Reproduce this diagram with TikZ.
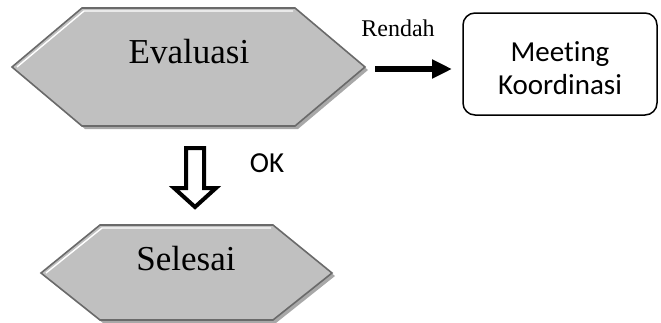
\documentclass[tikz,border=0pt]{standalone}
\usepackage{fontspec}
\setmainfont{Liberation Serif}
\newfontfamily\calfont[Ligatures={NoCommon}]{Carlito}
\usetikzlibrary{arrows.meta}
\definecolor{hexfill}{HTML}{C0C0C0}
\definecolor{hexline}{HTML}{6A6A6A}
\definecolor{hexshadow}{HTML}{A8A8A8}
\tikzset{
  hexshape/.style={fill=hexfill,draw=hexline,line width=1.6pt,line join=miter},
  hexshade/.style={fill=hexshadow,draw=none},
  hexhl/.style={draw=white,line width=1.4pt},
  bigtext/.style={font=\fontsize{35}{40}\selectfont,anchor=base,inner sep=0pt},
  smalltext/.style={font=\fontsize{24}{28}\selectfont,anchor=base,inner sep=0pt},
  caltext/.style={font=\calfont\fontsize{29}{36}\selectfont,inner sep=0pt,align=center},
  boxstyle/.style={draw=black,line width=1.5pt,rounded corners=12pt}
}
\begin{document}
\begin{tikzpicture}[x=1pt,y=-1pt]
\useasboundingbox (0,0) rectangle (661,322);
% Evaluasi hexagon
\fill[hexshade] (15,70) -- (85,11) -- (298,11) -- (368,70) -- (298,129) -- (85,129) -- cycle;
\draw[hexshape] (12,67) -- (82,8) -- (295,8) -- (365,67) -- (295,126) -- (82,126) -- cycle;
\draw[hexhl] (17,67) -- (84,11) -- (293,11);
\node[bigtext] (ev) at (189,63) {Evaluasi};
% Selesai hexagon
\fill[hexshade] (44,276) -- (103,228) -- (276,228) -- (335,276) -- (276,323) -- (103,323) -- cycle;
\draw[hexshape] (41,273) -- (100,225) -- (273,225) -- (332,273) -- (273,320) -- (100,320) -- cycle;
\draw[hexhl] (46,273) -- (102,228) -- (271,228);
\node[bigtext] (se) at (186,270) {Selesai};
% Meeting box
\node[boxstyle,minimum width=194pt,minimum height=102pt] (mk) at (560,64) {};
\node[caltext] (mkt) at (560,68) {Meeting\\[-3pt]Koordinasi};
% Rendah arrow
\coordinate (arS) at (375,69);
\coordinate (arE) at (452,69);
\draw[line width=6pt,-{Triangle[width=18pt,length=20pt]}] (arS) -- (arE);
\node[smalltext] (rd) at (398,36) {Rendah};
% hollow down arrow
\draw[line width=4pt,line join=miter,fill=white] (186,148) -- (204,148) -- (204,188) -- (216,188) -- (195,207) -- (174,188) -- (186,188) -- cycle;
\node[font=\calfont\fontsize{29}{36}\selectfont,anchor=base,inner sep=0pt] (ok) at (267,172) {OK};
\end{tikzpicture}
\end{document}
